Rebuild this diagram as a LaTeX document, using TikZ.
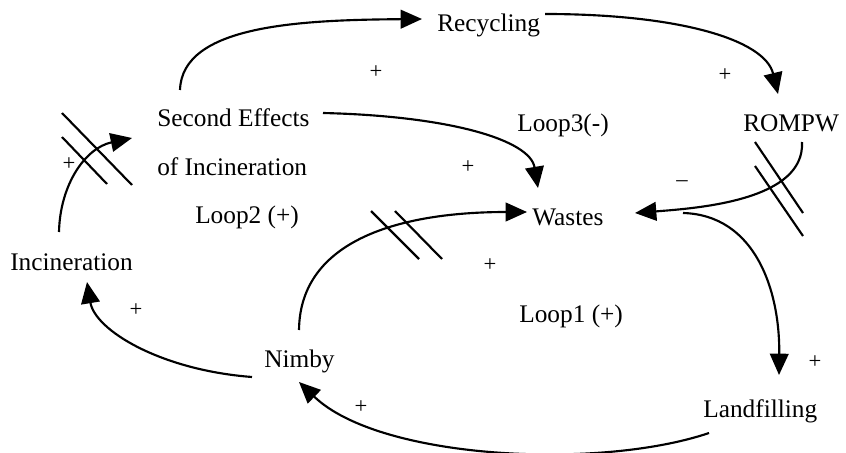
\documentclass[tikz,border=0pt]{standalone}
\usepackage{fontspec}
\setmainfont{Liberation Serif}
\usetikzlibrary{arrows.meta}
\begin{document}
\begin{tikzpicture}[x=0.75pt,y=-0.75pt,
  lbl/.style={anchor=base west,inner sep=0pt,font=\fontsize{19}{22}\selectfont},
  sgn/.style={inner sep=0pt,font=\fontsize{17}{20}\selectfont},
  link/.style={line width=1.6pt,-{Triangle[length=16pt,width=14pt]}},
  hash/.style={line width=1.6pt}]
\useasboundingbox (0,0) rectangle (846,453);
% nodes
\node[lbl] (rec) at (437,32) {Recycling};
\node[lbl] (sec) at (157,127) {Second Effects};
\node[lbl] (sec2) at (157,175) {of Incineration};
\node[lbl] (loop2) at (195,223) {Loop2 (+)};
\node[lbl] (inc) at (10,270) {Incineration};
\node[lbl] (loop3) at (517,132) {Loop3(-)};
\node[lbl] (rom) at (743,132) {ROMPW};
\node[lbl] (was) at (532,225) {Wastes};
\node[lbl] (loop1) at (519,322) {Loop1 (+)};
\node[lbl] (nim) at (264,367) {Nimby};
\node[lbl] (lan) at (703,417) {Landfilling};
% connector end points
\coordinate (secTop) at (180,90);
\coordinate (recIn) at (422,19);
\coordinate (recOut) at (545,14);
\coordinate (romIn) at (778,94);
\coordinate (secOut) at (323,113);
\coordinate (wasTop) at (538,188);
\coordinate (romOut) at (802,142);
\coordinate (wasRight) at (635,213);
\coordinate (wasOut) at (683,213);
\coordinate (lanIn) at (779,375);
\coordinate (lanOut) at (709,433);
\coordinate (nimIn) at (299,382);
\coordinate (nimOut) at (252,377);
\coordinate (incIn) at (87,282);
\coordinate (incOut) at (59,232);
\coordinate (secIn) at (132,138);
\coordinate (nimTop) at (299,330);
\coordinate (wasLeft) at (527,212);
% connectors
\draw[link] (secTop) .. controls (182,25) and (300,20) .. (recIn);
\draw[link] (recOut) .. controls (680,14) and (765,40) .. (romIn);
\draw[link] (secOut) .. controls (450,116) and (530,140) .. (wasTop);
\draw[link] (romOut) .. controls (805,200) and (700,208) .. (wasRight);
\draw[link] (wasOut) .. controls (755,215) and (780,290) .. (lanIn);
\draw[link] (lanOut) .. controls (600,470) and (380,460) .. (nimIn);
\draw[link] (nimOut) .. controls (160,370) and (95,330) .. (incIn);
\draw[link] (incOut) .. controls (60,185) and (85,148) .. (secIn);
\draw[link] (nimTop) .. controls (300,240) and (400,212) .. (wasLeft);
% delay marks
\draw[hash] (62,113) -- (132,185);
\draw[hash] (62,137) -- (107,184);
\draw[hash] (371,211) -- (419,259);
\draw[hash] (395,211) -- (442,259);
\draw[hash] (755,142) -- (803,213);
\draw[hash] (755,166) -- (803,236);
% polarity signs
\node[sgn] (p1) at (376,72) {+};
\node[sgn] (p2) at (725,75) {+};
\node[sgn] (p3) at (468,167) {+};
\node[sgn] (p4) at (69,164) {+};
\node[sgn] (p5) at (490,265) {+};
\node[sgn] (p6) at (136,310) {+};
\node[sgn] (p7) at (815,362) {+};
\node[sgn] (p8) at (361,407) {+};
\node[sgn] (m1) at (682,184) {–};
\end{tikzpicture}
\end{document}
